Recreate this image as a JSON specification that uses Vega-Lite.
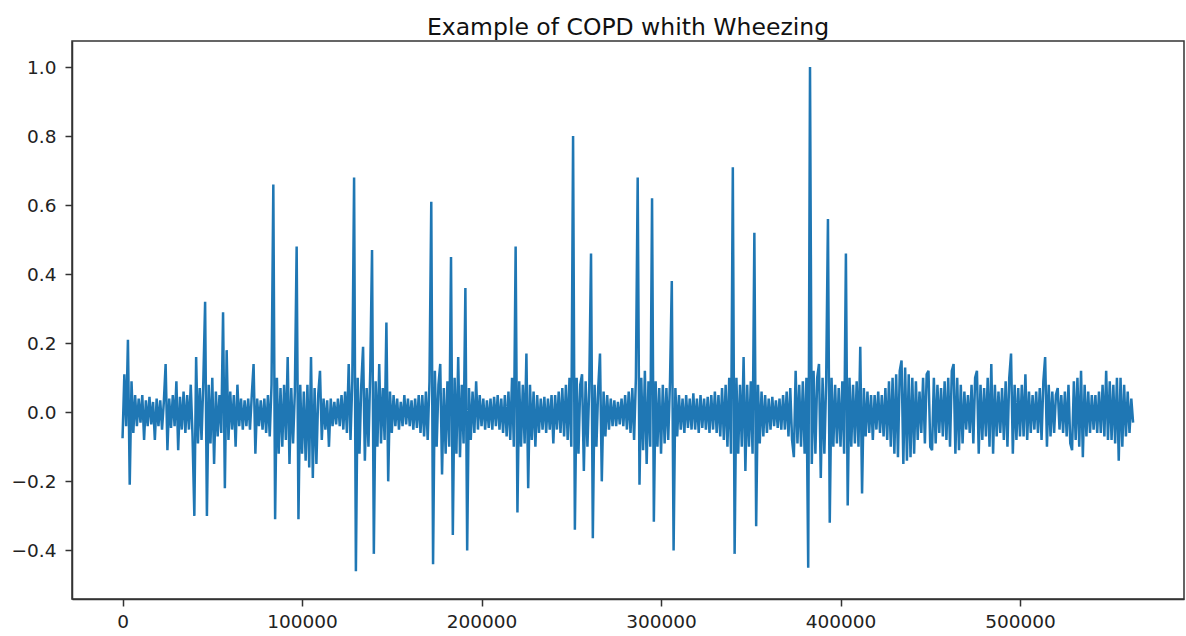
{
"$schema": "https://vega.github.io/schema/vega-lite/v6.json",
"width": 1112, "height": 558,
"autosize": {"type": "none"},
"padding": {"left": 72, "top": 41, "right": 2, "bottom": 37},
"background": "white",
"title": {"text": "Example of COPD whith Wheezing", "font": "DejaVu Sans", "fontSize": 23.5, "fontWeight": "normal", "color": "#111", "anchor": "middle", "baseline": "bottom", "offset": 5, "dy": 27},
"config": {"view": {"stroke": "#333", "strokeWidth": 1.5}, "axis": {"grid": false, "domainColor": "#333", "domainWidth": 1.5, "tickColor": "#333", "tickWidth": 1.5, "tickSize": 7, "labelFont": "DejaVu Sans", "labelFontSize": 18.5, "labelColor": "#222"}},
"data": {"values": [
{"t":0,"v":-0.075},{"t":1000,"v":0.11},{"t":2000,"v":-0.04},{"t":3000,"v":0.21},{"t":4000,"v":-0.21},{"t":5000,"v":0.09},{"t":6000,"v":-0.06},{"t":7000,"v":0.05},{"t":8000,"v":-0.04},{"t":9000,"v":0.04},
{"t":10000,"v":-0.03},{"t":11000,"v":0.05},{"t":12000,"v":-0.08},{"t":13000,"v":0.035},{"t":14000,"v":-0.04},{"t":15000,"v":0.045},{"t":16000,"v":-0.035},{"t":17000,"v":0.03},{"t":18000,"v":-0.08},{"t":19000,"v":0.04},
{"t":20000,"v":-0.04},{"t":21000,"v":0.035},{"t":22000,"v":-0.05},{"t":23000,"v":0.03},{"t":24000,"v":0.14},{"t":25000,"v":-0.11},{"t":26000,"v":0.04},{"t":27000,"v":-0.045},{"t":28000,"v":0.05},{"t":29000,"v":-0.04},
{"t":30000,"v":0.09},{"t":31000,"v":-0.11},{"t":32000,"v":0.045},{"t":33000,"v":-0.05},{"t":34000,"v":0.06},{"t":35000,"v":-0.06},{"t":36000,"v":0.05},{"t":37000,"v":-0.05},{"t":38000,"v":0.08},{"t":39000,"v":-0.07},
{"t":40000,"v":-0.3},{"t":41000,"v":0.16},{"t":42000,"v":-0.09},{"t":43000,"v":0.07},{"t":44000,"v":-0.08},{"t":45000,"v":0.09},{"t":46000,"v":0.32},{"t":47000,"v":-0.3},{"t":48000,"v":0.08},{"t":49000,"v":-0.09},
{"t":50000,"v":0.1},{"t":51000,"v":-0.15},{"t":52000,"v":0.06},{"t":53000,"v":-0.07},{"t":54000,"v":0.05},{"t":55000,"v":-0.06},{"t":56000,"v":0.29},{"t":57000,"v":-0.22},{"t":58000,"v":0.18},{"t":59000,"v":-0.08},
{"t":60000,"v":0.06},{"t":61000,"v":-0.05},{"t":62000,"v":0.05},{"t":63000,"v":-0.1},{"t":64000,"v":0.08},{"t":65000,"v":-0.04},{"t":66000,"v":0.04},{"t":67000,"v":-0.05},{"t":68000,"v":0.035},{"t":69000,"v":-0.04},
{"t":70000,"v":0.04},{"t":71000,"v":-0.05},{"t":72000,"v":0.05},{"t":73000,"v":0.14},{"t":74000,"v":-0.12},{"t":75000,"v":0.04},{"t":76000,"v":-0.04},{"t":77000,"v":0.035},{"t":78000,"v":-0.05},{"t":79000,"v":0.04},
{"t":80000,"v":-0.06},{"t":81000,"v":0.05},{"t":82000,"v":-0.07},{"t":83000,"v":0.08},{"t":84000,"v":0.66},{"t":85000,"v":-0.31},{"t":86000,"v":0.1},{"t":87000,"v":-0.12},{"t":88000,"v":0.07},{"t":89000,"v":-0.1},
{"t":90000,"v":0.08},{"t":91000,"v":-0.08},{"t":92000,"v":0.16},{"t":93000,"v":-0.15},{"t":94000,"v":0.07},{"t":95000,"v":-0.09},{"t":96000,"v":0.06},{"t":97000,"v":0.48},{"t":98000,"v":-0.31},{"t":99000,"v":0.08},
{"t":100000,"v":-0.12},{"t":101000,"v":0.06},{"t":102000,"v":-0.14},{"t":103000,"v":0.08},{"t":104000,"v":-0.16},{"t":105000,"v":0.16},{"t":106000,"v":-0.19},{"t":107000,"v":0.07},{"t":108000,"v":-0.15},{"t":109000,"v":0.05},
{"t":110000,"v":0.12},{"t":111000,"v":-0.08},{"t":112000,"v":0.04},{"t":113000,"v":-0.05},{"t":114000,"v":0.035},{"t":115000,"v":-0.1},{"t":116000,"v":0.04},{"t":117000,"v":-0.04},{"t":118000,"v":0.03},{"t":119000,"v":-0.035},
{"t":120000,"v":0.04},{"t":121000,"v":-0.04},{"t":122000,"v":0.05},{"t":123000,"v":-0.05},{"t":124000,"v":0.06},{"t":125000,"v":-0.06},{"t":126000,"v":0.14},{"t":127000,"v":-0.08},{"t":128000,"v":0.09},{"t":129000,"v":0.68},
{"t":130000,"v":-0.46},{"t":131000,"v":0.1},{"t":132000,"v":-0.12},{"t":133000,"v":0.08},{"t":134000,"v":0.19},{"t":135000,"v":-0.14},{"t":136000,"v":0.07},{"t":137000,"v":-0.1},{"t":138000,"v":0.12},{"t":139000,"v":0.47},
{"t":140000,"v":-0.41},{"t":141000,"v":0.09},{"t":142000,"v":-0.1},{"t":143000,"v":0.14},{"t":144000,"v":-0.09},{"t":145000,"v":0.07},{"t":146000,"v":-0.08},{"t":147000,"v":0.26},{"t":148000,"v":-0.2},{"t":149000,"v":0.06},
{"t":150000,"v":-0.06},{"t":151000,"v":0.05},{"t":152000,"v":-0.04},{"t":153000,"v":0.04},{"t":154000,"v":-0.05},{"t":155000,"v":0.03},{"t":156000,"v":-0.04},{"t":157000,"v":0.05},{"t":158000,"v":-0.035},{"t":159000,"v":0.04},
{"t":160000,"v":-0.04},{"t":161000,"v":0.035},{"t":162000,"v":-0.05},{"t":163000,"v":0.04},{"t":164000,"v":-0.045},{"t":165000,"v":0.05},{"t":166000,"v":-0.06},{"t":167000,"v":0.05},{"t":168000,"v":-0.07},{"t":169000,"v":0.06},
{"t":170000,"v":-0.08},{"t":171000,"v":0.09},{"t":172000,"v":0.61},{"t":173000,"v":-0.44},{"t":174000,"v":0.12},{"t":175000,"v":-0.1},{"t":176000,"v":0.08},{"t":177000,"v":0.14},{"t":178000,"v":-0.18},{"t":179000,"v":0.07},
{"t":180000,"v":-0.12},{"t":181000,"v":0.09},{"t":182000,"v":-0.1},{"t":183000,"v":0.45},{"t":184000,"v":-0.355},{"t":185000,"v":0.1},{"t":186000,"v":-0.12},{"t":187000,"v":0.16},{"t":188000,"v":-0.13},{"t":189000,"v":0.08},
{"t":190000,"v":-0.09},{"t":191000,"v":0.36},{"t":192000,"v":-0.4},{"t":193000,"v":0.07},{"t":194000,"v":-0.08},{"t":195000,"v":0.06},{"t":196000,"v":-0.06},{"t":197000,"v":0.09},{"t":198000,"v":-0.05},{"t":199000,"v":0.05},
{"t":200000,"v":-0.04},{"t":201000,"v":0.04},{"t":202000,"v":-0.05},{"t":203000,"v":0.035},{"t":204000,"v":-0.045},{"t":205000,"v":0.04},{"t":206000,"v":-0.05},{"t":207000,"v":0.045},{"t":208000,"v":-0.04},{"t":209000,"v":0.05},
{"t":210000,"v":-0.05},{"t":211000,"v":0.04},{"t":212000,"v":-0.06},{"t":213000,"v":0.05},{"t":214000,"v":-0.07},{"t":215000,"v":0.06},{"t":216000,"v":-0.08},{"t":217000,"v":0.1},{"t":218000,"v":-0.1},{"t":219000,"v":0.48},
{"t":220000,"v":-0.29},{"t":221000,"v":0.09},{"t":222000,"v":-0.1},{"t":223000,"v":0.08},{"t":224000,"v":-0.09},{"t":225000,"v":0.17},{"t":226000,"v":-0.22},{"t":227000,"v":0.08},{"t":228000,"v":-0.08},{"t":229000,"v":0.06},
{"t":230000,"v":-0.1},{"t":231000,"v":0.05},{"t":232000,"v":-0.06},{"t":233000,"v":0.04},{"t":234000,"v":-0.05},{"t":235000,"v":0.045},{"t":236000,"v":-0.06},{"t":237000,"v":0.04},{"t":238000,"v":-0.05},{"t":239000,"v":0.05},
{"t":240000,"v":-0.09},{"t":241000,"v":0.05},{"t":242000,"v":-0.05},{"t":243000,"v":0.06},{"t":244000,"v":-0.06},{"t":245000,"v":0.07},{"t":246000,"v":-0.07},{"t":247000,"v":0.08},{"t":248000,"v":-0.08},{"t":249000,"v":0.1},
{"t":250000,"v":-0.1},{"t":251000,"v":0.8},{"t":252000,"v":-0.34},{"t":253000,"v":0.1},{"t":254000,"v":-0.12},{"t":255000,"v":0.08},{"t":256000,"v":0.11},{"t":257000,"v":-0.17},{"t":258000,"v":0.09},{"t":259000,"v":-0.1},
{"t":260000,"v":0.07},{"t":261000,"v":0.46},{"t":262000,"v":-0.365},{"t":263000,"v":0.08},{"t":264000,"v":-0.1},{"t":265000,"v":0.07},{"t":266000,"v":0.17},{"t":267000,"v":-0.2},{"t":268000,"v":0.06},{"t":269000,"v":-0.07},
{"t":270000,"v":0.05},{"t":271000,"v":-0.05},{"t":272000,"v":0.04},{"t":273000,"v":-0.04},{"t":274000,"v":0.035},{"t":275000,"v":-0.04},{"t":276000,"v":0.03},{"t":277000,"v":-0.035},{"t":278000,"v":0.04},{"t":279000,"v":-0.04},
{"t":280000,"v":0.05},{"t":281000,"v":-0.05},{"t":282000,"v":0.06},{"t":283000,"v":-0.06},{"t":284000,"v":0.07},{"t":285000,"v":-0.08},{"t":286000,"v":0.1},{"t":287000,"v":0.68},{"t":288000,"v":-0.21},{"t":289000,"v":0.1},
{"t":290000,"v":-0.11},{"t":291000,"v":0.12},{"t":292000,"v":-0.15},{"t":293000,"v":0.09},{"t":294000,"v":-0.1},{"t":295000,"v":0.62},{"t":296000,"v":-0.317},{"t":297000,"v":0.09},{"t":298000,"v":-0.1},{"t":299000,"v":0.07},
{"t":300000,"v":-0.12},{"t":301000,"v":0.08},{"t":302000,"v":-0.09},{"t":303000,"v":0.07},{"t":304000,"v":-0.08},{"t":305000,"v":0.09},{"t":306000,"v":0.38},{"t":307000,"v":-0.4},{"t":308000,"v":0.07},{"t":309000,"v":-0.07},
{"t":310000,"v":0.05},{"t":311000,"v":-0.05},{"t":312000,"v":0.04},{"t":313000,"v":-0.06},{"t":314000,"v":0.05},{"t":315000,"v":-0.045},{"t":316000,"v":0.04},{"t":317000,"v":-0.05},{"t":318000,"v":0.055},{"t":319000,"v":-0.05},
{"t":320000,"v":0.04},{"t":321000,"v":-0.06},{"t":322000,"v":0.05},{"t":323000,"v":-0.045},{"t":324000,"v":0.04},{"t":325000,"v":-0.05},{"t":326000,"v":0.045},{"t":327000,"v":-0.06},{"t":328000,"v":0.05},{"t":329000,"v":-0.05},
{"t":330000,"v":0.06},{"t":331000,"v":-0.06},{"t":332000,"v":0.05},{"t":333000,"v":-0.07},{"t":334000,"v":0.07},{"t":335000,"v":-0.08},{"t":336000,"v":0.08},{"t":337000,"v":-0.1},{"t":338000,"v":0.1},{"t":339000,"v":-0.12},
{"t":340000,"v":0.71},{"t":341000,"v":-0.41},{"t":342000,"v":0.1},{"t":343000,"v":-0.12},{"t":344000,"v":0.08},{"t":345000,"v":-0.1},{"t":346000,"v":0.16},{"t":347000,"v":-0.17},{"t":348000,"v":0.08},{"t":349000,"v":-0.1},
{"t":350000,"v":0.09},{"t":351000,"v":-0.12},{"t":352000,"v":0.52},{"t":353000,"v":-0.33},{"t":354000,"v":0.08},{"t":355000,"v":-0.09},{"t":356000,"v":0.06},{"t":357000,"v":-0.07},{"t":358000,"v":0.05},{"t":359000,"v":-0.06},
{"t":360000,"v":0.04},{"t":361000,"v":-0.05},{"t":362000,"v":0.045},{"t":363000,"v":-0.04},{"t":364000,"v":0.035},{"t":365000,"v":-0.045},{"t":366000,"v":0.04},{"t":367000,"v":-0.05},{"t":368000,"v":0.05},{"t":369000,"v":-0.05},
{"t":370000,"v":0.06},{"t":371000,"v":-0.07},{"t":372000,"v":0.07},{"t":373000,"v":-0.08},{"t":374000,"v":-0.13},{"t":375000,"v":0.12},{"t":376000,"v":-0.09},{"t":377000,"v":0.08},{"t":378000,"v":-0.1},{"t":379000,"v":0.09},
{"t":380000,"v":-0.12},{"t":381000,"v":0.1},{"t":382000,"v":-0.45},{"t":383000,"v":1.0},{"t":384000,"v":-0.15},{"t":385000,"v":0.12},{"t":386000,"v":-0.12},{"t":387000,"v":0.1},{"t":388000,"v":0.14},{"t":389000,"v":-0.19},
{"t":390000,"v":0.1},{"t":391000,"v":-0.12},{"t":392000,"v":0.09},{"t":393000,"v":0.56},{"t":394000,"v":-0.32},{"t":395000,"v":0.1},{"t":396000,"v":-0.1},{"t":397000,"v":0.08},{"t":398000,"v":-0.09},{"t":399000,"v":0.07},
{"t":400000,"v":-0.1},{"t":401000,"v":0.09},{"t":402000,"v":-0.12},{"t":403000,"v":0.46},{"t":404000,"v":-0.27},{"t":405000,"v":0.1},{"t":406000,"v":-0.1},{"t":407000,"v":0.08},{"t":408000,"v":-0.09},{"t":409000,"v":0.09},
{"t":410000,"v":-0.1},{"t":411000,"v":0.19},{"t":412000,"v":-0.235},{"t":413000,"v":0.07},{"t":414000,"v":-0.07},{"t":415000,"v":0.06},{"t":416000,"v":-0.06},{"t":417000,"v":0.05},{"t":418000,"v":-0.08},{"t":419000,"v":0.05},
{"t":420000,"v":-0.05},{"t":421000,"v":0.06},{"t":422000,"v":-0.06},{"t":423000,"v":0.05},{"t":424000,"v":-0.07},{"t":425000,"v":0.07},{"t":426000,"v":-0.08},{"t":427000,"v":0.09},{"t":428000,"v":-0.1},{"t":429000,"v":0.1},
{"t":430000,"v":-0.12},{"t":431000,"v":0.11},{"t":432000,"v":-0.13},{"t":433000,"v":0.12},{"t":434000,"v":0.15},{"t":435000,"v":-0.15},{"t":436000,"v":0.13},{"t":437000,"v":-0.14},{"t":438000,"v":0.11},{"t":439000,"v":-0.13},
{"t":440000,"v":0.1},{"t":441000,"v":-0.12},{"t":442000,"v":0.09},{"t":443000,"v":-0.08},{"t":444000,"v":0.06},{"t":445000,"v":-0.06},{"t":446000,"v":0.1},{"t":447000,"v":-0.09},{"t":448000,"v":0.11},{"t":449000,"v":0.12},
{"t":450000,"v":-0.1},{"t":451000,"v":-0.11},{"t":452000,"v":0.1},{"t":453000,"v":-0.09},{"t":454000,"v":0.08},{"t":455000,"v":-0.06},{"t":456000,"v":0.07},{"t":457000,"v":-0.07},{"t":458000,"v":0.09},{"t":459000,"v":-0.08},
{"t":460000,"v":0.1},{"t":461000,"v":-0.1},{"t":462000,"v":0.12},{"t":463000,"v":0.14},{"t":464000,"v":-0.12},{"t":465000,"v":0.1},{"t":466000,"v":-0.11},{"t":467000,"v":0.08},{"t":468000,"v":-0.09},{"t":469000,"v":0.06},
{"t":470000,"v":-0.05},{"t":471000,"v":0.05},{"t":472000,"v":-0.06},{"t":473000,"v":0.08},{"t":474000,"v":-0.09},{"t":475000,"v":0.1},{"t":476000,"v":0.12},{"t":477000,"v":-0.12},{"t":478000,"v":0.08},{"t":479000,"v":-0.08},
{"t":480000,"v":0.07},{"t":481000,"v":-0.07},{"t":482000,"v":0.1},{"t":483000,"v":-0.1},{"t":484000,"v":0.14},{"t":485000,"v":-0.12},{"t":486000,"v":0.08},{"t":487000,"v":-0.07},{"t":488000,"v":0.06},{"t":489000,"v":-0.06},
{"t":490000,"v":0.07},{"t":491000,"v":-0.08},{"t":492000,"v":0.09},{"t":493000,"v":-0.1},{"t":494000,"v":0.1},{"t":495000,"v":0.17},{"t":496000,"v":-0.12},{"t":497000,"v":0.08},{"t":498000,"v":-0.08},{"t":499000,"v":0.07},
{"t":500000,"v":-0.07},{"t":501000,"v":0.08},{"t":502000,"v":-0.07},{"t":503000,"v":0.11},{"t":504000,"v":-0.08},{"t":505000,"v":0.06},{"t":506000,"v":-0.06},{"t":507000,"v":0.05},{"t":508000,"v":-0.05},{"t":509000,"v":0.06},
{"t":510000,"v":-0.06},{"t":511000,"v":0.07},{"t":512000,"v":-0.08},{"t":513000,"v":0.09},{"t":514000,"v":0.16},{"t":515000,"v":-0.1},{"t":516000,"v":0.08},{"t":517000,"v":-0.07},{"t":518000,"v":0.06},{"t":519000,"v":-0.06},
{"t":520000,"v":0.05},{"t":521000,"v":0.07},{"t":522000,"v":-0.05},{"t":523000,"v":0.05},{"t":524000,"v":-0.06},{"t":525000,"v":0.06},{"t":526000,"v":-0.07},{"t":527000,"v":0.08},{"t":528000,"v":-0.09},{"t":529000,"v":-0.11},
{"t":530000,"v":0.09},{"t":531000,"v":-0.08},{"t":532000,"v":0.1},{"t":533000,"v":-0.1},{"t":534000,"v":0.12},{"t":535000,"v":-0.13},{"t":536000,"v":0.08},{"t":537000,"v":-0.07},{"t":538000,"v":0.06},{"t":539000,"v":-0.06},
{"t":540000,"v":0.05},{"t":541000,"v":-0.05},{"t":542000,"v":0.05},{"t":543000,"v":-0.06},{"t":544000,"v":0.06},{"t":545000,"v":-0.06},{"t":546000,"v":0.08},{"t":547000,"v":-0.07},{"t":548000,"v":0.12},{"t":549000,"v":-0.08},
{"t":550000,"v":0.09},{"t":551000,"v":-0.08},{"t":552000,"v":0.08},{"t":553000,"v":-0.09},{"t":554000,"v":0.1},{"t":555000,"v":-0.14},{"t":556000,"v":0.1},{"t":557000,"v":-0.1},{"t":558000,"v":0.08},{"t":559000,"v":-0.07},
{"t":560000,"v":0.06},{"t":561000,"v":-0.06},{"t":562000,"v":0.04},{"t":563000,"v":-0.03}
]},
"mark": {"type": "line", "color": "#1f77b4", "strokeWidth": 2.5, "clip": true},
"encoding": {
"x": {"field": "t", "type": "quantitative", "scale": {"domain": [-28160, 591360], "nice": false, "zero": false}, "axis": {"title": null, "values": [0, 100000, 200000, 300000, 400000, 500000], "format": "d", "labelPadding": 6, "labelFlush": false}},
"y": {"field": "v", "type": "quantitative", "scale": {"domain": [-0.5407, 1.0753], "nice": false, "zero": false}, "axis": {"title": null, "values": [-0.4, -0.2, 0, 0.2, 0.4, 0.6, 0.8, 1.0], "format": ".1f", "labelPadding": 9}}
}
}
